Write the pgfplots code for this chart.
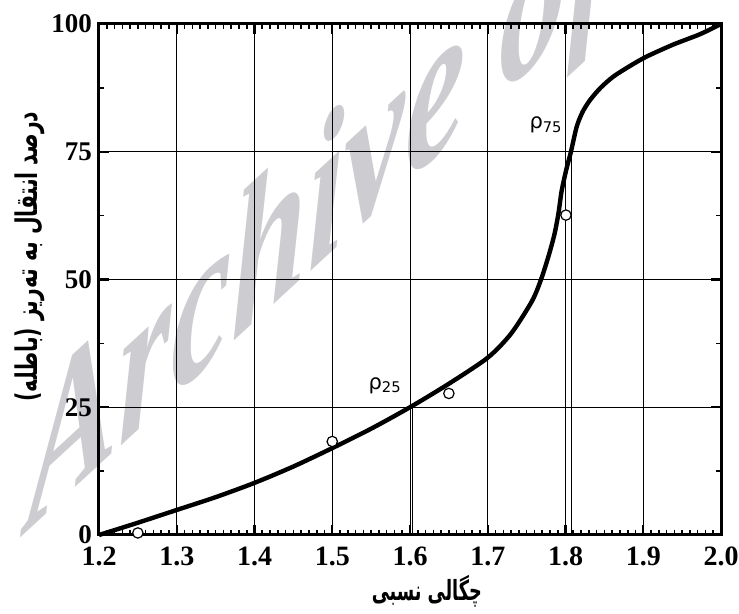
\documentclass[border=0pt]{standalone}
\usepackage{fontspec}
\setmainfont{Liberation Serif}
\newfontfamily\farsi[Script=Arabic]{DejaVu Sans}
\newfontfamily\rhofont{DejaVu Sans}
\TeXXeTstate=1
\usepackage{pgfplots}
\pgfplotsset{compat=1.18}
\definecolor{wmgray}{RGB}{205,205,209}

\begin{document}
\begin{tikzpicture}
% watermark, behind the chart
\begin{scope}[shift={(-36pt,1.5pt)}, yslant=0.92, yscale=1.5]
\node[transform shape, anchor=base west, inner sep=0pt, text=wmgray,
      font=\fontsize{68}{68}\selectfont\bfseries\itshape]
  at (0,0) {Archive of SID};
\end{scope}
\begin{axis}[
    scale only axis, width=311pt, height=255.5pt,
    xmin=1.2, xmax=2.0, ymin=0, ymax=100,
    xtick={1.2,1.3,1.4,1.5,1.6,1.7,1.8,1.9,2.0},
    ytick={0,25,50,75,100},
    minor x tick num=9, minor y tick num=1,
    grid=major, grid style={black, line width=0.5pt},
    axis line style={line width=1.5pt},
    tick align=inside,
    major tick length=5pt, minor tick length=2.5pt,
    every major tick/.append style={line width=1.2pt, black},
    every minor tick/.append style={line width=0.8pt, black},
    /pgf/number format/assume math mode=true,
    xticklabel style={/pgf/number format/.cd, fixed, fixed zerofill, precision=1,
        /tikz/.cd, font=\bfseries\fontsize{14}{14}\selectfont, yshift=-2.5pt},
    yticklabel style={font=\bfseries\fontsize{13.5}{14}\selectfont},
    xlabel={\resizebox*{55pt}{16pt}{\farsi\bfseries\beginR چگالی نسبی\endR}},
    xlabel style={at={(axis description cs:0.527,-0.11)}, anchor=center},
    ylabel={\resizebox*{145pt}{15pt}{\farsi\bfseries\beginR درصد انتقال به ته‌ریز (باطله)\endR}},
    ylabel style={at={(axis description cs:-0.111,0.545)}, anchor=center},
    clip=false,
]
% drop lines at rho_25 and rho_75
\addplot[black, line width=0.6pt] coordinates {(1.603,0) (1.603,25)};
\addplot[black, line width=0.6pt] coordinates {(1.808,0) (1.808,75)};
% separation curve
\addplot[black, line width=2.2pt, smooth, tension=0.45] coordinates {
  (1.2,0) (1.25,2.4) (1.3,4.9) (1.35,7.4) (1.4,10.2) (1.45,13.4) (1.5,17.0)
  (1.55,20.8) (1.6,25.0) (1.65,29.6) (1.7,34.7) (1.73,39.4) (1.757,45.8)
  (1.769,50.2) (1.779,55) (1.786,59) (1.791,63) (1.795,67.3) (1.801,71.5)
  (1.807,75) (1.8144,79.9) (1.822,82.8) (1.8315,85.1) (1.845,87.5)
  (1.8615,89.7) (1.882,91.7) (1.904,93.6) (1.939,96) (1.973,98) (2.0,100)};
% measured points
\addplot[only marks, mark=*, mark size=2.6pt,
         mark options={fill=white, draw=black, line width=0.6pt}] coordinates {
  (1.25,0.4) (1.5,18.3) (1.65,27.7) (1.8006,62.6)};
\node[font=\rhofont\fontsize{10.5}{11}\selectfont] at (axis cs:1.568,29.2) {ρ\textsubscript{25}};
\node[font=\rhofont\fontsize{10.5}{11}\selectfont] at (axis cs:1.775,80.2) {ρ\textsubscript{75}};
\end{axis}
\pgfresetboundingbox
\path (-49.5pt,-39.5pt) rectangle (320pt,267.5pt);
\end{tikzpicture}
\end{document}
